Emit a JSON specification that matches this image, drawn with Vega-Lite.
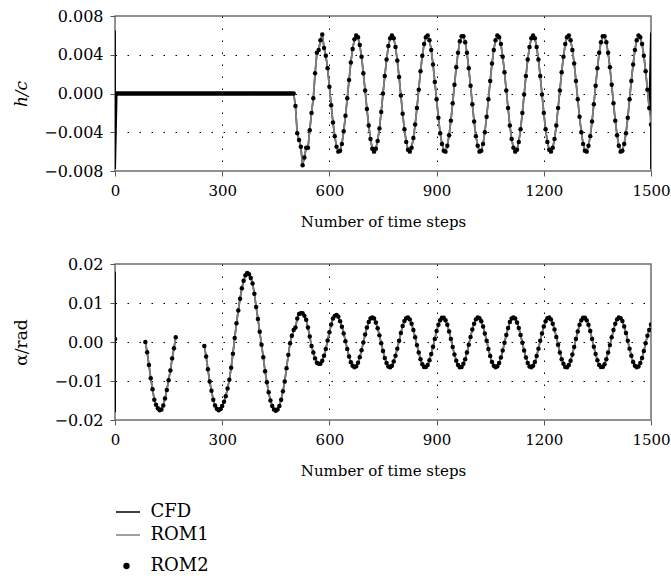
{
 "$schema": "https://vega.github.io/schema/vega-lite/v6.json",
 "padding": {"left": 12, "top": 7, "right": 0, "bottom": 0},
 "bounds": "flush",
 "spacing": 93,
 "datasets": {
  "hc": [
   {"t":0,"v":0},{"t":0.2,"v":0.0065,"only":"CFD"},{"t":0.6,"v":-0.0078,"only":"CFD"},
   {"t":5,"v":0},{"t":10,"v":0},{"t":15,"v":0},{"t":20,"v":0},{"t":25,"v":0},{"t":30,"v":0},{"t":35,"v":0},{"t":40,"v":0},{"t":45,"v":0},
   {"t":50,"v":0},{"t":55,"v":0},{"t":60,"v":0},{"t":65,"v":0},{"t":70,"v":0},{"t":75,"v":0},{"t":80,"v":0},{"t":85,"v":0},{"t":90,"v":0},{"t":95,"v":0},
   {"t":100,"v":0},{"t":105,"v":0},{"t":110,"v":0},{"t":115,"v":0},{"t":120,"v":0},{"t":125,"v":0},{"t":130,"v":0},{"t":135,"v":0},{"t":140,"v":0},{"t":145,"v":0},
   {"t":150,"v":0},{"t":155,"v":0},{"t":160,"v":0},{"t":165,"v":0},{"t":170,"v":0},{"t":175,"v":0},{"t":180,"v":0},{"t":185,"v":0},{"t":190,"v":0},{"t":195,"v":0},
   {"t":200,"v":0},{"t":205,"v":0},{"t":210,"v":0},{"t":215,"v":0},{"t":220,"v":0},{"t":225,"v":0},{"t":230,"v":0},{"t":235,"v":0},{"t":240,"v":0},{"t":245,"v":0},
   {"t":250,"v":0},{"t":255,"v":0},{"t":260,"v":0},{"t":265,"v":0},{"t":270,"v":0},{"t":275,"v":0},{"t":280,"v":0},{"t":285,"v":0},{"t":290,"v":0},{"t":295,"v":0},
   {"t":300,"v":0},{"t":305,"v":0},{"t":310,"v":0},{"t":315,"v":0},{"t":320,"v":0},{"t":325,"v":0},{"t":330,"v":0},{"t":335,"v":0},{"t":340,"v":0},{"t":345,"v":0},
   {"t":350,"v":0},{"t":355,"v":0},{"t":360,"v":0},{"t":365,"v":0},{"t":370,"v":0},{"t":375,"v":0},{"t":380,"v":0},{"t":385,"v":0},{"t":390,"v":0},{"t":395,"v":0},
   {"t":400,"v":0},{"t":405,"v":0},{"t":410,"v":0},{"t":415,"v":0},{"t":420,"v":0},{"t":425,"v":0},{"t":430,"v":0},{"t":435,"v":0},{"t":440,"v":0},{"t":445,"v":0},
   {"t":450,"v":0},{"t":455,"v":0},{"t":460,"v":0},{"t":465,"v":0},{"t":470,"v":0},{"t":475,"v":0},{"t":480,"v":0},{"t":485,"v":0},{"t":490,"v":0},{"t":495,"v":0},
   {"t":500,"v":0},{"t":505,"v":-0.0013},{"t":510,"v":-0.0041},{"t":515,"v":-0.0048},{"t":520,"v":-0.0055},{"t":525,"v":-0.0074},{"t":530,"v":-0.0066},{"t":535,"v":-0.0056},{"t":540,"v":-0.0056},{"t":545,"v":-0.0038},
   {"t":550,"v":-0.002},{"t":555,"v":-0.0005},{"t":560,"v":0.0021},{"t":565,"v":0.0042},{"t":570,"v":0.0045},{"t":575,"v":0.0055},{"t":580,"v":0.0061},{"t":585,"v":0.0047},{"t":590,"v":0.0039},{"t":595,"v":0.0026},
   {"t":600,"v":0.0007},{"t":605,"v":-0.0012},{"t":610,"v":-0.003},{"t":615,"v":-0.0044},{"t":620,"v":-0.0055},{"t":625,"v":-0.006},{"t":630,"v":-0.0059},{"t":635,"v":-0.0052},{"t":640,"v":-0.0039},{"t":645,"v":-0.0023},
   {"t":650,"v":-0.0005},{"t":655,"v":0.0014},{"t":660,"v":0.0032},{"t":665,"v":0.0046},{"t":670,"v":0.0056},{"t":675,"v":0.006},{"t":680,"v":0.0058},{"t":685,"v":0.005},{"t":690,"v":0.0038},{"t":695,"v":0.0021},
   {"t":700,"v":0.0003},{"t":705,"v":-0.0016},{"t":710,"v":-0.0033},{"t":715,"v":-0.0047},{"t":720,"v":-0.0057},{"t":725,"v":-0.006},{"t":730,"v":-0.0057},{"t":735,"v":-0.0049},{"t":740,"v":-0.0036},{"t":745,"v":-0.0019},
   {"t":750,"v":0},{"t":755,"v":0.0018},{"t":760,"v":0.0035},{"t":765,"v":0.0049},{"t":770,"v":0.0057},{"t":775,"v":0.006},{"t":780,"v":0.0057},{"t":785,"v":0.0048},{"t":790,"v":0.0034},{"t":795,"v":0.0017},
   {"t":800,"v":-0.0002},{"t":805,"v":-0.0021},{"t":810,"v":-0.0037},{"t":815,"v":-0.005},{"t":820,"v":-0.0058},{"t":825,"v":-0.006},{"t":830,"v":-0.0056},{"t":835,"v":-0.0046},{"t":840,"v":-0.0032},{"t":845,"v":-0.0015},
   {"t":850,"v":0.0004},{"t":855,"v":0.0023},{"t":860,"v":0.0039},{"t":865,"v":0.0051},{"t":870,"v":0.0058},{"t":875,"v":0.006},{"t":880,"v":0.0055},{"t":885,"v":0.0045},{"t":890,"v":0.003},{"t":895,"v":0.0012},
   {"t":900,"v":-0.0006},{"t":905,"v":-0.0025},{"t":910,"v":-0.0041},{"t":915,"v":-0.0052},{"t":920,"v":-0.0059},{"t":925,"v":-0.006},{"t":930,"v":-0.0054},{"t":935,"v":-0.0043},{"t":940,"v":-0.0028},{"t":945,"v":-0.001},
   {"t":950,"v":0.0009},{"t":955,"v":0.0027},{"t":960,"v":0.0042},{"t":965,"v":0.0054},{"t":970,"v":0.0059},{"t":975,"v":0.0059},{"t":980,"v":0.0053},{"t":985,"v":0.0042},{"t":990,"v":0.0026},{"t":995,"v":0.0008},
   {"t":1000,"v":-0.0011},{"t":1005,"v":-0.0029},{"t":1010,"v":-0.0044},{"t":1015,"v":-0.0054},{"t":1020,"v":-0.006},{"t":1025,"v":-0.0059},{"t":1030,"v":-0.0052},{"t":1035,"v":-0.004},{"t":1040,"v":-0.0024},{"t":1045,"v":-0.0006},
   {"t":1050,"v":0.0013},{"t":1055,"v":0.0031},{"t":1060,"v":0.0045},{"t":1065,"v":0.0055},{"t":1070,"v":0.006},{"t":1075,"v":0.0058},{"t":1080,"v":0.0051},{"t":1085,"v":0.0038},{"t":1090,"v":0.0022},{"t":1095,"v":0.0003},
   {"t":1100,"v":-0.0015},{"t":1105,"v":-0.0033},{"t":1110,"v":-0.0047},{"t":1115,"v":-0.0056},{"t":1120,"v":-0.006},{"t":1125,"v":-0.0058},{"t":1130,"v":-0.005},{"t":1135,"v":-0.0037},{"t":1140,"v":-0.002},{"t":1145,"v":-0.0001},
   {"t":1150,"v":0.0018},{"t":1155,"v":0.0035},{"t":1160,"v":0.0048},{"t":1165,"v":0.0057},{"t":1170,"v":0.006},{"t":1175,"v":0.0057},{"t":1180,"v":0.0048},{"t":1185,"v":0.0035},{"t":1190,"v":0.0018},{"t":1195,"v":-0.0001},
   {"t":1200,"v":-0.002},{"t":1205,"v":-0.0037},{"t":1210,"v":-0.005},{"t":1215,"v":-0.0058},{"t":1220,"v":-0.006},{"t":1225,"v":-0.0056},{"t":1230,"v":-0.0047},{"t":1235,"v":-0.0033},{"t":1240,"v":-0.0015},{"t":1245,"v":0.0003},
   {"t":1250,"v":0.0022},{"t":1255,"v":0.0038},{"t":1260,"v":0.0051},{"t":1265,"v":0.0058},{"t":1270,"v":0.006},{"t":1275,"v":0.0055},{"t":1280,"v":0.0045},{"t":1285,"v":0.0031},{"t":1290,"v":0.0013},{"t":1295,"v":-0.0006},
   {"t":1300,"v":-0.0024},{"t":1305,"v":-0.004},{"t":1310,"v":-0.0052},{"t":1315,"v":-0.0059},{"t":1320,"v":-0.006},{"t":1325,"v":-0.0054},{"t":1330,"v":-0.0044},{"t":1335,"v":-0.0029},{"t":1340,"v":-0.0011},{"t":1345,"v":0.0008},
   {"t":1350,"v":0.0026},{"t":1355,"v":0.0042},{"t":1360,"v":0.0053},{"t":1365,"v":0.0059},{"t":1370,"v":0.0059},{"t":1375,"v":0.0053},{"t":1380,"v":0.0042},{"t":1385,"v":0.0027},{"t":1390,"v":0.0009},{"t":1395,"v":-0.001},
   {"t":1400,"v":-0.0028},{"t":1405,"v":-0.0043},{"t":1410,"v":-0.0054},{"t":1415,"v":-0.006},{"t":1420,"v":-0.0059},{"t":1425,"v":-0.0052},{"t":1430,"v":-0.0041},{"t":1435,"v":-0.0025},{"t":1440,"v":-0.0006},{"t":1445,"v":0.0013},
   {"t":1450,"v":0.003},{"t":1455,"v":0.0045},{"t":1460,"v":0.0055},{"t":1465,"v":0.006},{"t":1470,"v":0.0058},{"t":1475,"v":0.0051},{"t":1480,"v":0.0039},{"t":1485,"v":0.0023},{"t":1490,"v":0.0004},{"t":1495,"v":-0.0015},
   {"t":1499.5,"v":0.0063,"only":"CFD"},{"t":1499.8,"v":-0.0078,"only":"CFD"},
   {"t":1500,"v":-0.0032}
  ],
  "alpha": [
   {"t":0,"v":0.0008,"seg":0},{"t":0.2,"v":0.018,"seg":0,"only":"CFD"},{"t":0.6,"v":-0.018,"seg":0,"only":"CFD"},
   {"t":85,"v":0,"seg":1},{"t":90,"v":-0.0026,"seg":1},{"t":95,"v":-0.0059,"seg":1},{"t":100,"v":-0.0093,"seg":1},{"t":105,"v":-0.0121,"seg":1},{"t":110,"v":-0.0148,"seg":1},{"t":115,"v":-0.0161,"seg":1},{"t":120,"v":-0.017,"seg":1},{"t":125,"v":-0.0175,"seg":1},{"t":130,"v":-0.0173,"seg":1},{"t":135,"v":-0.0163,"seg":1},{"t":140,"v":-0.0145,"seg":1},{"t":145,"v":-0.0123,"seg":1},{"t":150,"v":-0.0098,"seg":1},{"t":155,"v":-0.0073,"seg":1},{"t":160,"v":-0.0042,"seg":1},{"t":165,"v":-0.0016,"seg":1},{"t":170,"v":0.0012,"seg":1},
   {"t":250,"v":-0.001,"seg":2},{"t":255,"v":-0.0037,"seg":2},{"t":260,"v":-0.007,"seg":2},{"t":265,"v":-0.0101,"seg":2},{"t":270,"v":-0.0125,"seg":2},{"t":275,"v":-0.0148,"seg":2},{"t":280,"v":-0.0163,"seg":2},{"t":285,"v":-0.0171,"seg":2},{"t":290,"v":-0.0175,"seg":2},{"t":295,"v":-0.0172,"seg":2},
   {"t":300,"v":-0.0164,"seg":2},{"t":305,"v":-0.0153,"seg":2},{"t":310,"v":-0.0139,"seg":2},{"t":315,"v":-0.0119,"seg":2},{"t":320,"v":-0.0097,"seg":2},{"t":325,"v":-0.0066,"seg":2},{"t":330,"v":-0.003,"seg":2},{"t":335,"v":0.001,"seg":2},{"t":340,"v":0.0048,"seg":2},{"t":345,"v":0.0081,"seg":2},
   {"t":350,"v":0.0111,"seg":2},{"t":355,"v":0.0138,"seg":2},{"t":360,"v":0.0157,"seg":2},{"t":365,"v":0.0171,"seg":2},{"t":370,"v":0.0177,"seg":2},{"t":375,"v":0.0174,"seg":2},{"t":380,"v":0.0164,"seg":2},{"t":385,"v":0.015,"seg":2},{"t":390,"v":0.0124,"seg":2},{"t":395,"v":0.009,"seg":2},
   {"t":400,"v":0.0059,"seg":2},{"t":405,"v":0.0026,"seg":2},{"t":410,"v":-0.0007,"seg":2},{"t":415,"v":-0.0039,"seg":2},{"t":420,"v":-0.0075,"seg":2},{"t":425,"v":-0.0103,"seg":2},{"t":430,"v":-0.0129,"seg":2},{"t":435,"v":-0.015,"seg":2},{"t":440,"v":-0.0164,"seg":2},{"t":445,"v":-0.0173,"seg":2},
   {"t":450,"v":-0.0176,"seg":2},{"t":455,"v":-0.0173,"seg":2},{"t":460,"v":-0.0164,"seg":2},{"t":465,"v":-0.0148,"seg":2},{"t":470,"v":-0.0126,"seg":2},{"t":475,"v":-0.0101,"seg":2},{"t":480,"v":-0.0067,"seg":2},{"t":485,"v":-0.0033,"seg":2},{"t":490,"v":-0.0003,"seg":2},{"t":495,"v":0.0016,"seg":2},
   {"t":500,"v":0.0031,"seg":2},{"t":505,"v":0.0037,"seg":2},{"t":510,"v":0.006,"seg":2},{"t":515,"v":0.0072,"seg":2},{"t":520,"v":0.0074,"seg":2},{"t":525,"v":0.0074,"seg":2},{"t":530,"v":0.0067,"seg":2},{"t":535,"v":0.0057,"seg":2},{"t":540,"v":0.0037,"seg":2},{"t":545,"v":0.0014,"seg":2},
   {"t":550,"v":-0.001,"seg":2},{"t":555,"v":-0.0027,"seg":2},{"t":560,"v":-0.0042,"seg":2},{"t":565,"v":-0.0053,"seg":2},{"t":570,"v":-0.0056,"seg":2},{"t":575,"v":-0.0056,"seg":2},{"t":580,"v":-0.0048,"seg":2},{"t":585,"v":-0.0035,"seg":2},{"t":590,"v":-0.0018,"seg":2},{"t":595,"v":0.0004,"seg":2},
   {"t":600,"v":0.0025,"seg":2},{"t":605,"v":0.0045,"seg":2},{"t":610,"v":0.006,"seg":2},{"t":615,"v":0.0067,"seg":2},{"t":620,"v":0.0069,"seg":2},{"t":625,"v":0.0065,"seg":2},{"t":630,"v":0.0053,"seg":2},{"t":635,"v":0.0039,"seg":2},{"t":640,"v":0.0022,"seg":2},{"t":645,"v":0.0002,"seg":2},
   {"t":650,"v":-0.0018,"seg":2},{"t":655,"v":-0.0037,"seg":2},{"t":660,"v":-0.0052,"seg":2},{"t":665,"v":-0.0061,"seg":2},{"t":670,"v":-0.0065,"seg":2},{"t":675,"v":-0.0062,"seg":2},{"t":680,"v":-0.0053,"seg":2},{"t":685,"v":-0.0039,"seg":2},{"t":690,"v":-0.0021,"seg":2},{"t":695,"v":-0.0001,"seg":2},
   {"t":700,"v":0.0019,"seg":2},{"t":705,"v":0.0037,"seg":2},{"t":710,"v":0.0051,"seg":2},{"t":715,"v":0.006,"seg":2},{"t":720,"v":0.0063,"seg":2},{"t":725,"v":0.006,"seg":2},{"t":730,"v":0.005,"seg":2},{"t":735,"v":0.0035,"seg":2},{"t":740,"v":0.0017,"seg":2},{"t":745,"v":-0.0003,"seg":2},
   {"t":750,"v":-0.0023,"seg":2},{"t":755,"v":-0.0041,"seg":2},{"t":760,"v":-0.0054,"seg":2},{"t":765,"v":-0.0063,"seg":2},{"t":770,"v":-0.0065,"seg":2},{"t":775,"v":-0.0061,"seg":2},{"t":780,"v":-0.005,"seg":2},{"t":785,"v":-0.0035,"seg":2},{"t":790,"v":-0.0017,"seg":2},{"t":795,"v":0.0003,"seg":2},
   {"t":800,"v":0.0023,"seg":2},{"t":805,"v":0.0041,"seg":2},{"t":810,"v":0.0054,"seg":2},{"t":815,"v":0.0061,"seg":2},{"t":820,"v":0.0063,"seg":2},{"t":825,"v":0.0058,"seg":2},{"t":830,"v":0.0047,"seg":2},{"t":835,"v":0.0031,"seg":2},{"t":840,"v":0.0012,"seg":2},{"t":845,"v":-0.0008,"seg":2},
   {"t":850,"v":-0.0027,"seg":2},{"t":855,"v":-0.0044,"seg":2},{"t":860,"v":-0.0057,"seg":2},{"t":865,"v":-0.0064,"seg":2},{"t":870,"v":-0.0064,"seg":2},{"t":875,"v":-0.0059,"seg":2},{"t":880,"v":-0.0047,"seg":2},{"t":885,"v":-0.0031,"seg":2},{"t":890,"v":-0.0012,"seg":2},{"t":895,"v":0.0008,"seg":2},
   {"t":900,"v":0.0028,"seg":2},{"t":905,"v":0.0044,"seg":2},{"t":910,"v":0.0056,"seg":2},{"t":915,"v":0.0062,"seg":2},{"t":920,"v":0.0062,"seg":2},{"t":925,"v":0.0056,"seg":2},{"t":930,"v":0.0044,"seg":2},{"t":935,"v":0.0027,"seg":2},{"t":940,"v":0.0008,"seg":2},{"t":945,"v":-0.0013,"seg":2},
   {"t":950,"v":-0.0032,"seg":2},{"t":955,"v":-0.0048,"seg":2},{"t":960,"v":-0.0059,"seg":2},{"t":965,"v":-0.0065,"seg":2},{"t":970,"v":-0.0064,"seg":2},{"t":975,"v":-0.0056,"seg":2},{"t":980,"v":-0.0044,"seg":2},{"t":985,"v":-0.0027,"seg":2},{"t":990,"v":-0.0007,"seg":2},{"t":995,"v":0.0013,"seg":2},
   {"t":1000,"v":0.0032,"seg":2},{"t":1005,"v":0.0047,"seg":2},{"t":1010,"v":0.0058,"seg":2},{"t":1015,"v":0.0063,"seg":2},{"t":1020,"v":0.0061,"seg":2},{"t":1025,"v":0.0053,"seg":2},{"t":1030,"v":0.004,"seg":2},{"t":1035,"v":0.0022,"seg":2},{"t":1040,"v":0.0003,"seg":2},{"t":1045,"v":-0.0018,"seg":2},
   {"t":1050,"v":-0.0036,"seg":2},{"t":1055,"v":-0.0051,"seg":2},{"t":1060,"v":-0.0061,"seg":2},{"t":1065,"v":-0.0065,"seg":2},{"t":1070,"v":-0.0062,"seg":2},{"t":1075,"v":-0.0054,"seg":2},{"t":1080,"v":-0.004,"seg":2},{"t":1085,"v":-0.0022,"seg":2},{"t":1090,"v":-0.0002,"seg":2},{"t":1095,"v":0.0018,"seg":2},
   {"t":1100,"v":0.0036,"seg":2},{"t":1105,"v":0.0051,"seg":2},{"t":1110,"v":0.006,"seg":2},{"t":1115,"v":0.0063,"seg":2},{"t":1120,"v":0.006,"seg":2},{"t":1125,"v":0.005,"seg":2},{"t":1130,"v":0.0036,"seg":2},{"t":1135,"v":0.0018,"seg":2},{"t":1140,"v":-0.0002,"seg":2},{"t":1145,"v":-0.0022,"seg":2},
   {"t":1150,"v":-0.004,"seg":2},{"t":1155,"v":-0.0054,"seg":2},{"t":1160,"v":-0.0063,"seg":2},{"t":1165,"v":-0.0065,"seg":2},{"t":1170,"v":-0.0061,"seg":2},{"t":1175,"v":-0.0051,"seg":2},{"t":1180,"v":-0.0036,"seg":2},{"t":1185,"v":-0.0017,"seg":2},{"t":1190,"v":0.0003,"seg":2},{"t":1195,"v":0.0022,"seg":2},
   {"t":1200,"v":0.004,"seg":2},{"t":1205,"v":0.0053,"seg":2},{"t":1210,"v":0.0061,"seg":2},{"t":1215,"v":0.0063,"seg":2},{"t":1220,"v":0.0058,"seg":2},{"t":1225,"v":0.0047,"seg":2},{"t":1230,"v":0.0032,"seg":2},{"t":1235,"v":0.0013,"seg":2},{"t":1240,"v":-0.0007,"seg":2},{"t":1245,"v":-0.0027,"seg":2},
   {"t":1250,"v":-0.0044,"seg":2},{"t":1255,"v":-0.0056,"seg":2},{"t":1260,"v":-0.0064,"seg":2},{"t":1265,"v":-0.0065,"seg":2},{"t":1270,"v":-0.0059,"seg":2},{"t":1275,"v":-0.0048,"seg":2},{"t":1280,"v":-0.0032,"seg":2},{"t":1285,"v":-0.0013,"seg":2},{"t":1290,"v":0.0008,"seg":2},{"t":1295,"v":0.0027,"seg":2},
   {"t":1300,"v":0.0044,"seg":2},{"t":1305,"v":0.0056,"seg":2},{"t":1310,"v":0.0062,"seg":2},{"t":1315,"v":0.0062,"seg":2},{"t":1320,"v":0.0056,"seg":2},{"t":1325,"v":0.0044,"seg":2},{"t":1330,"v":0.0028,"seg":2},{"t":1335,"v":0.0008,"seg":2},{"t":1340,"v":-0.0012,"seg":2},{"t":1345,"v":-0.0031,"seg":2},
   {"t":1350,"v":-0.0047,"seg":2},{"t":1355,"v":-0.0059,"seg":2},{"t":1360,"v":-0.0064,"seg":2},{"t":1365,"v":-0.0064,"seg":2},{"t":1370,"v":-0.0057,"seg":2},{"t":1375,"v":-0.0044,"seg":2},{"t":1380,"v":-0.0027,"seg":2},{"t":1385,"v":-0.0008,"seg":2},{"t":1390,"v":0.0012,"seg":2},{"t":1395,"v":0.0031,"seg":2},
   {"t":1400,"v":0.0047,"seg":2},{"t":1405,"v":0.0058,"seg":2},{"t":1410,"v":0.0063,"seg":2},{"t":1415,"v":0.0061,"seg":2},{"t":1420,"v":0.0054,"seg":2},{"t":1425,"v":0.004,"seg":2},{"t":1430,"v":0.0023,"seg":2},{"t":1435,"v":0.0003,"seg":2},{"t":1440,"v":-0.0017,"seg":2},{"t":1445,"v":-0.0035,"seg":2},
   {"t":1450,"v":-0.0051,"seg":2},{"t":1455,"v":-0.0061,"seg":2},{"t":1460,"v":-0.0065,"seg":2},{"t":1465,"v":-0.0063,"seg":2},{"t":1470,"v":-0.0054,"seg":2},{"t":1475,"v":-0.0041,"seg":2},{"t":1480,"v":-0.0023,"seg":2},{"t":1485,"v":-0.0003,"seg":2},{"t":1490,"v":0.0016,"seg":2},{"t":1495,"v":0.0031,"seg":2},
   {"t":1500,"v":0.0045,"seg":2}
  ]
 },
 "vconcat": [
  {
   "width": 536,
   "height": 155,
   "data": {"name": "hc"},
   "encoding": {
    "x": {"field": "t", "type": "quantitative",
          "scale": {"domain": [0, 1500], "nice": false, "zero": false},
          "axis": {"title": "Number of time steps", "values": [0, 300, 600, 900, 1200, 1500], "format": "d",
                   "gridOpacity": {"condition": {"test": "datum.value === 0 || datum.value === 1500", "value": 0}, "value": 1}}},
    "y": {"field": "v", "type": "quantitative",
          "scale": {"domain": [-0.008, 0.008], "nice": false, "zero": false},
          "axis": {"title": "h/c", "titleFontStyle": "italic", "values": [-0.008, -0.004, 0, 0.004, 0.008], "format": ".3f", "titlePadding": 13,
                   "gridOpacity": {"condition": {"test": "abs(datum.value) > 0.007", "value": 0}, "value": 1}}}
   },
   "layer": [
    {"mark": {"type": "line", "color": "black", "strokeWidth": 1.6, "clip": true}},
    {"transform": [{"filter": "datum.only !== 'CFD'"}],
     "mark": {"type": "line", "color": "#808080", "strokeWidth": 1.8, "clip": true}},
    {"transform": [{"filter": "datum.only !== 'CFD'"}],
     "mark": {"type": "point", "filled": true, "color": "black", "size": 20, "opacity": 1, "clip": true}}
   ]
  },
  {
   "width": 536,
   "height": 156,
   "data": {"name": "alpha"},
   "encoding": {
    "x": {"field": "t", "type": "quantitative",
          "scale": {"domain": [0, 1500], "nice": false, "zero": false},
          "axis": {"title": "Number of time steps", "values": [0, 300, 600, 900, 1200, 1500], "format": "d",
                   "gridOpacity": {"condition": {"test": "datum.value === 0 || datum.value === 1500", "value": 0}, "value": 1}}},
    "y": {"field": "v", "type": "quantitative",
          "scale": {"domain": [-0.02, 0.02], "nice": false, "zero": false},
          "axis": {"title": "α/rad", "values": [-0.02, -0.01, 0, 0.01, 0.02], "format": ".2f", "titlePadding": 23,
                   "gridOpacity": {"condition": {"test": "abs(datum.value) > 0.015", "value": 0}, "value": 1}}}
   },
   "layer": [
    {"mark": {"type": "line", "strokeWidth": 1.6, "clip": true},
     "encoding": {
      "detail": {"field": "seg"},
      "color": {"datum": "CFD",
                "scale": {"domain": ["CFD", "ROM1"], "range": ["black", "#808080"]},
                "legend": {"title": null, "orient": "none", "legendX": 0, "legendY": 483, "direction": "vertical",
                           "symbolType": "stroke", "symbolSize": 576, "symbolStrokeWidth": 1.5,
                           "labelFontSize": 18, "labelOffset": 9.5, "labelColor": "black", "rowPadding": 1}}
     }},
    {"transform": [{"filter": "datum.only !== 'CFD'"}],
     "mark": {"type": "line", "strokeWidth": 1.8, "clip": true},
     "encoding": {"detail": {"field": "seg"}, "color": {"datum": "ROM1"}}},
    {"transform": [{"filter": "datum.only !== 'CFD'"}],
     "mark": {"type": "point", "filled": true, "color": "black", "size": 20, "opacity": 1, "clip": true},
     "encoding": {"shape": {"datum": "ROM2",
                            "scale": {"domain": ["ROM2"], "range": ["circle"]},
                            "legend": {"title": null, "orient": "none", "legendX": 2.5, "legendY": 541, "direction": "vertical",
                                       "symbolSize": 40, "symbolFillColor": "black", "symbolStrokeWidth": 0,
                                       "labelFontSize": 18, "labelOffset": 15, "labelColor": "black"}}}}
   ]
  }
 ],
 "config": {
  "font": "DejaVu Serif",
  "view": {"stroke": "#6e6e6e", "strokeWidth": 1.5},
  "axis": {
   "domain": false,
   "labelFont": "DejaVu Serif", "labelFontSize": 16, "labelColor": "black",
   "labelFlush": false, "labelOverlap": false,
   "titleFont": "DejaVu Serif", "titleFontWeight": "normal", "titleColor": "black",
   "tickColor": "#555555", "tickSize": 5, "tickWidth": 1,
   "grid": true, "gridColor": "black", "gridDash": [1.5, 10.5], "gridWidth": 1
  },
  "axisX": {"labelPadding": 7, "titlePadding": 16, "titleFontSize": 15, "labelFontSize": 15},
  "axisY": {"labelPadding": 7, "titleFontSize": 17},
  "legend": {"labelFont": "DejaVu Serif"}
 }
}
